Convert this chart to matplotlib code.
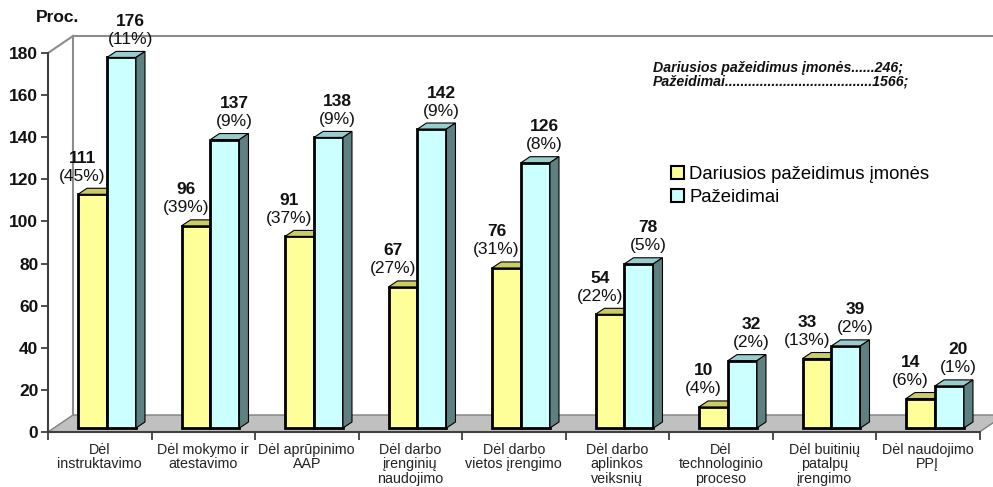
import matplotlib
matplotlib.use("Agg")
import matplotlib.pyplot as plt
import numpy as np
from matplotlib.patches import Polygon, Patch
from matplotlib.lines import Line2D
from matplotlib.transforms import offset_copy, IdentityTransform

plt.rcParams['font.family'] = ['Liberation Sans', 'DejaVu Sans']

categories = ["Dėl\ninstruktavimo", "Dėl mokymo ir\natestavimo", "Dėl aprūpinimo\nAAP",
              "Dėl darbo\nįrenginių\nnaudojimo", "Dėl darbo\nvietos įrengimo",
              "Dėl darbo\naplinkos\nveiksnių", "Dėl\ntechnologinio\nproceso",
              "Dėl buitinių\npatalpų\nįrengimo", "Dėl naudojimo\nPPĮ"]
companies = [111, 96, 91, 67, 76, 54, 10, 33, 14]
companies_pct = ["45%", "39%", "37%", "27%", "31%", "22%", "4%", "13%", "6%"]
violations = [176, 137, 138, 142, 126, 78, 32, 39, 20]
violations_pct = ["11%", "9%", "9%", "9%", "8%", "5%", "2%", "2%", "1%"]
yticks = list(range(0, 181, 20))
series_names = ["Dariusios pažeidimus įmonės", "Pažeidimai"]
note_lines = ["Dariusios pažeidimus įmonės......246;",
              "Pažeidimai......................................1566;"]

W, H = 993, 487
fig = plt.figure(figsize=(W / 100, H / 100), dpi=100)
ax = fig.add_axes([48 / W, (H - 432) / H, 931.5 / W, 379 / H])
ax.set_xlim(0, 9)
ax.set_ylim(0, 180)
ax.set_autoscale_on(False)
ax.patch.set_alpha(0)

ID = IdentityTransform()
D = np.array([25.0, 17.0])  # wall depth in pixels


def disp(x, y):
    return ax.transData.transform((x, y))


# floor
p0, p1 = disp(0, 0), disp(len(categories), 0)
floor = Polygon([p0, p1, p1 + D, p0 + D], closed=True, transform=ID,
                facecolor="#C0C0C0", edgecolor="#808080", lw=1.0, zorder=1, clip_on=False)
ax.add_patch(floor)

# back wall lines
t0 = disp(0, yticks[-1])
wall_col = "#8C8C8C"
for a, b in [(p0 + D, t0 + D), (t0, t0 + D), (t0 + D, np.array([1200, (t0 + D)[1]]))]:
    ax.add_line(Line2D([a[0], b[0]], [a[1], b[1]], transform=ID, color=wall_col,
                       lw=1.5, zorder=1.5, clip_on=False))

# bars
off = offset_copy(ax.transData, fig=fig, x=0, y=4, units='dots')
bw = 0.28
x = np.arange(len(categories))
styles = [
    dict(front="#FFFF99", top="#CCCC66", side="#999933", xoff=0.29, ldx=-10),
    dict(front="#CCFFFF", top="#99CCCC", side="#5F8080", xoff=0.57, ldx=9),
]
dd = np.array([9.0, 6.0])
for s_idx, (vals, pcts) in enumerate([(companies, companies_pct), (violations, violations_pct)]):
    st = styles[s_idx]
    bars = ax.bar(x + st["xoff"], vals, width=bw, align='edge', transform=off,
                  facecolor=st["front"], edgecolor="black", linewidth=2.0, clip_on=False)
    for i, p in enumerate(bars):
        z = 3 + i * 10 + s_idx * 4
        p.set_zorder(z)
        bb = p.get_window_extent()
        x0, x1, y0, y1 = bb.x0, bb.x1, bb.y0, bb.y1
        top = Polygon([(x0, y1), (x1, y1), (x1 + dd[0], y1 + dd[1]), (x0 + dd[0], y1 + dd[1])],
                      closed=True, transform=ID, facecolor=st["top"], edgecolor="black",
                      lw=0.8, zorder=z + 1, clip_on=False)
        side = Polygon([(x1, y0), (x1 + dd[0], y0 + dd[1]), (x1 + dd[0], y1 + dd[1]), (x1, y1)],
                       closed=True, transform=ID, facecolor=st["side"], edgecolor="black",
                       lw=0.8, zorder=z + 1, clip_on=False)
        ax.add_patch(top)
        ax.add_patch(side)
        xc = x[i] + st["xoff"] + bw / 2
        ax.annotate(f"({pcts[i]})", xy=(xc, vals[i]), xytext=(st["ldx"], 22),
                    textcoords='offset pixels', ha='center', va='center',
                    fontsize=12.5, color="#111111", zorder=50, annotation_clip=False)
        ax.annotate(f"{vals[i]}", xy=(xc, vals[i]), xytext=(st["ldx"], 40),
                    textcoords='offset pixels', ha='center', va='center',
                    fontsize=12.5, fontweight='bold', color="#111111", zorder=50,
                    annotation_clip=False)

# axes styling
for sp in ["top", "right"]:
    ax.spines[sp].set_visible(False)
for sp in ["left", "bottom"]:
    ax.spines[sp].set_color("#404040")
    ax.spines[sp].set_linewidth(1.5)
    ax.spines[sp].set_zorder(2)
ax.set_yticks(yticks)
ax.set_yticklabels([str(v) for v in yticks], fontsize=12.5, fontweight='bold', color="#111111")
ax.tick_params(axis='y', length=5, width=1.3, color="#404040", pad=2)
ax.set_xticks(np.arange(len(categories) + 1))
ax.set_xticklabels([])
ax.tick_params(axis='x', which='major', length=6, width=1.3, color="#404040")
ax.set_xticks(x + 0.5, minor=True)
ax.set_xticklabels(categories, minor=True, fontsize=10.3, color="#222222", linespacing=1.02)
ax.tick_params(axis='x', which='minor', length=0, pad=8)

fig.text(58 / W, 1 - 17 / H, "Proc.", ha='center', va='center', fontsize=12.5,
         fontweight='bold', color="#111111")

# note
fig.text(653 / W, 1 - 68 / H, note_lines[0], ha='left', va='center', fontsize=10.2,
         fontweight='bold', fontstyle='italic', color="#111111")
fig.text(653 / W, 1 - 82 / H, note_lines[1], ha='left', va='center', fontsize=10.2,
         fontweight='bold', fontstyle='italic', color="#111111")

# legend
handles = [Patch(facecolor=styles[0]["front"], edgecolor="black", lw=1.5),
           Patch(facecolor=styles[1]["front"], edgecolor="black", lw=1.5)]
fig.legend(handles, series_names, loc='upper left', bbox_to_anchor=(671 / W, 1 - 166 / H),
           frameon=False, fontsize=13.3, handlelength=0.7, handleheight=0.7,
           handletextpad=0.3, labelspacing=0.33, borderpad=0, borderaxespad=0)

fig.savefig("out.png", dpi=100)
